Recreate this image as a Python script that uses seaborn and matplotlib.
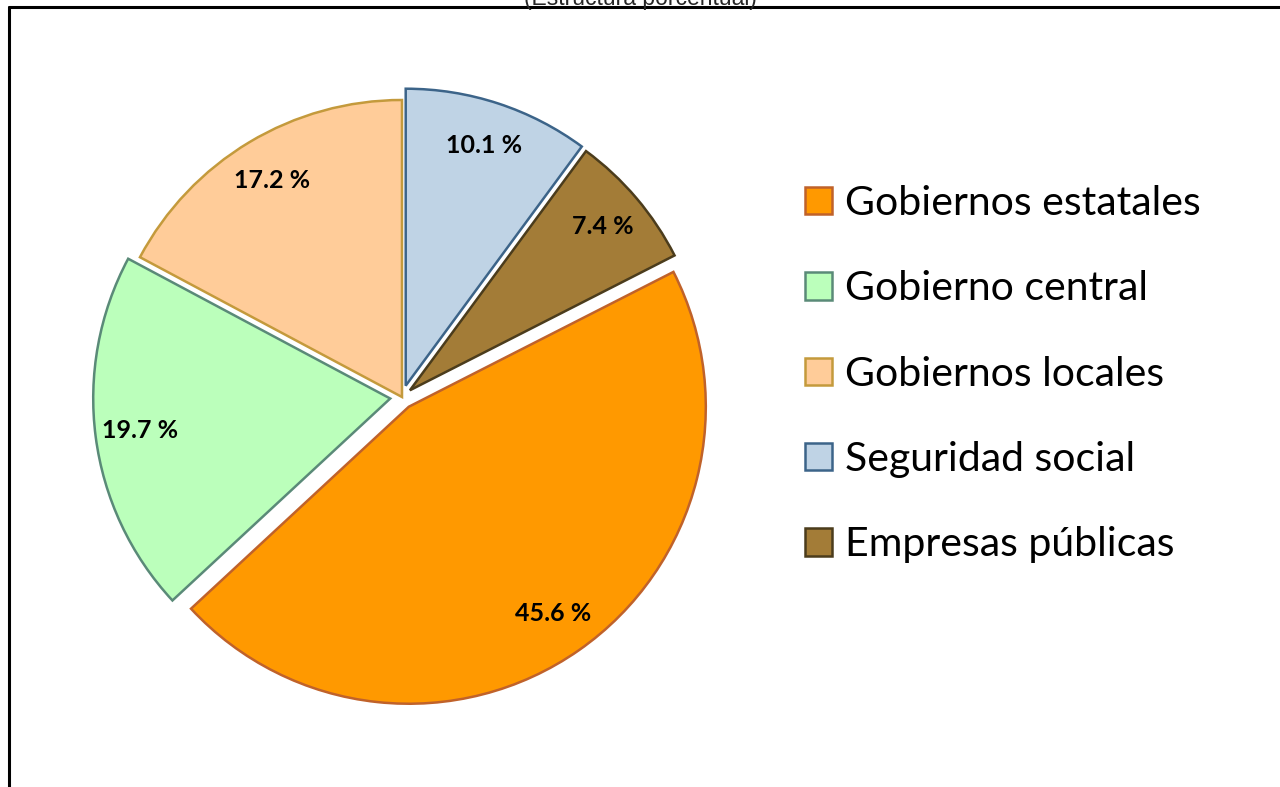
import matplotlib
matplotlib.use("Agg")
import matplotlib.pyplot as plt
import seaborn as sns
from matplotlib.lines import Line2D

sns.set_theme(style="white")
plt.rcParams['font.family'] = ['Lato', 'DejaVu Sans']

categories = ["Gobiernos estatales", "Gobierno central", "Gobiernos locales",
              "Seguridad social", "Empresas públicas"]
values = [45.6, 19.7, 17.2, 10.1, 7.4]
explode = [0.04, 0.04, 0.0, 0.04, 0.035]
fills = ["#FF9900", "#BBFFBB", "#FFCC99", "#BFD3E5", "#A37C37"]
edges = ["#C0622A", "#5A8A78", "#C49A3C", "#3C6489", "#4B3C1C"]
subtitle = "(Estructura porcentual)"

W, H = 1280, 787
fig = plt.figure(figsize=(W / 100, H / 100), dpi=100)
ax = fig.add_axes([0, 0, 1, 1])

# start so that "Seguridad social" begins at 12 o'clock, clockwise
start = 90 + 360 * sum(values[:3]) / sum(values)
wedges, texts, autotexts = ax.pie(
    values, explode=explode, colors=fills, startangle=start, counterclock=False,
    autopct=lambda p: f"{p:.1f} %", pctdistance=0.85,
    wedgeprops=dict(linewidth=1.8),
    textprops=dict(fontsize=18, fontweight="bold", color="black"))
for w, e in zip(wedges, edges):
    w.set_edgecolor(e)

# map pixel layout: pie centre at (402, 397) px, radius 297 px
cx, cy, r = 402, 397, 297
ax.set_xlim(-cx / r, (W - cx) / r)
ax.set_ylim(-(H - cy) / r, cy / r)
ax.set_aspect("auto")
ax.axis("off")

leg = fig.legend(wedges, categories, loc="upper left",
                 bbox_to_anchor=(805 / W, 1 - 185 / H), frameon=False,
                 fontsize=29.5, handlelength=0.66, handleheight=0.66,
                 handletextpad=0.32, labelspacing=1.18, borderaxespad=0,
                 borderpad=0)
for t in leg.get_texts():
    t.set_color("black")

# frame lines
fig.add_artist(Line2D([8.5 / W, 1], [1 - 7 / H, 1 - 7 / H], color="black", lw=2.2,
                      transform=fig.transFigure))
fig.add_artist(Line2D([8.5 / W, 8.5 / W], [0, 1 - 7 / H], color="black", lw=2.2,
                      transform=fig.transFigure))
fig.text(0.5, 1 - 5 / H, subtitle, ha="center", va="baseline", fontsize=16.5,
         family=["Liberation Sans", "DejaVu Sans"])

fig.savefig("out.png", dpi=100, facecolor="white")
